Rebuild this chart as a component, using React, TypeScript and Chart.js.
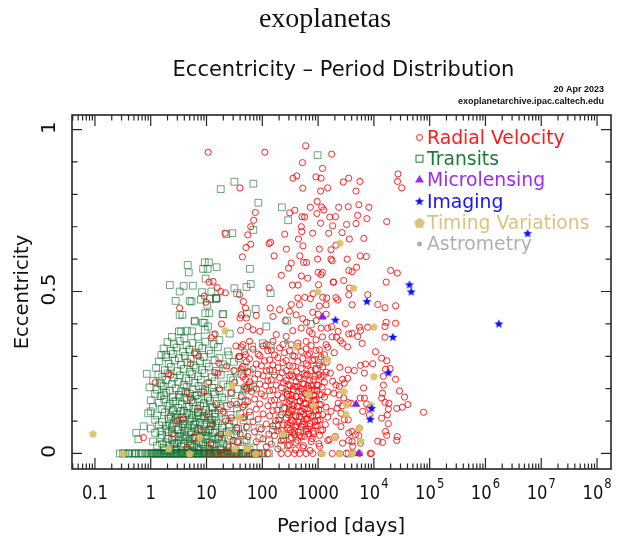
import { useEffect, useRef } from 'react';
import { Chart, registerables } from 'chart.js';

Chart.register(...registerables);

// Each point: [orbital period in days, eccentricity]
type Pt = [number, number];

const radialVelocity: Pt[] = [
  // high eccentricity
  [10.7, 0.93], [600, 0.95], [111, 0.93], [1750, 0.924], [525, 0.898], [1200, 0.88], [355, 0.85], [415, 0.857],
  [915, 0.854], [1130, 0.85], [530, 0.819], [1110, 0.81], [1480, 0.82], [2820, 0.838], [3530, 0.85], [5620, 0.84],
  [4790, 0.81], [27000, 0.863], [26500, 0.84], [31600, 0.82], [39.8, 0.82], [960, 0.778], [725, 0.76], [1160, 0.761],
  [1260, 0.752], [950, 0.741], [382, 0.751], [309, 0.743], [2340, 0.76], [3470, 0.762], [5370, 0.768], [8130, 0.76],
  [5100, 0.735], [7500, 0.725], [515, 0.731], [575, 0.73], [1620, 0.73], [2050, 0.731], [1110, 0.711], [1820, 0.703],
  [1550, 0.68], [2690, 0.682], [3240, 0.707], [4790, 0.71], [17000, 0.716], [500, 0.7], [510, 0.685], [800, 0.68],
  [75, 0.744], [70, 0.72], [55, 0.675], [62, 0.7], [252, 0.677], [445, 0.662], [141, 0.652], [132, 0.648],
  [62, 0.646], [51, 0.636], [44, 0.607], [535, 0.641], [1050, 0.631], [1700, 0.629], [2090, 0.643], [3630, 0.662],
  [6600, 0.664], [270, 0.631], [163, 0.61], [470, 0.61], [550, 0.59], [620, 0.59], [980, 0.6], [1700, 0.6],
  [1780, 0.595], [3320, 0.6], [5700, 0.61], [7300, 0.608], [296, 0.572], [330, 0.588], [219, 0.55], [500, 0.548],
  [650, 0.541], [1000, 0.559], [1200, 0.559], [1130, 0.552], [1860, 0.529], [2880, 0.534], [3550, 0.565], [4070, 0.561],
  [4900, 0.575], [16600, 0.529], [26300, 0.557], [20000, 0.565], [347, 0.52], [436, 0.52], [810, 0.493], [1020, 0.521],
  [1900, 0.529], [3550, 0.49], [7760, 0.49], [133, 0.511], [39, 0.49], [21.5, 0.68], [11.1, 0.529], [13.1, 0.531],
  [15.5, 0.512], [18, 0.5], [21.8, 0.496],
  // long periods
  [2090, 0.481], [2240, 0.474], [3630, 0.511], [4070, 0.459], [11700, 0.46], [15800, 0.45], [24500, 0.456], [3090, 0.401],
  [5500, 0.39], [7760, 0.39], [15800, 0.392], [16600, 0.405], [24500, 0.402], [5750, 0.379], [1740, 0.391], [2290, 0.377],
  [1780, 0.36], [2140, 0.359], [2510, 0.348], [3390, 0.329], [2750, 0.34], [3550, 0.369], [4070, 0.371], [5130, 0.361],
  [6170, 0.34], [15800, 0.359], [10700, 0.314], [13800, 0.294], [17000, 0.286], [9550, 0.277], [6760, 0.248], [1950, 0.311],
  [2450, 0.266], [3470, 0.258], [4470, 0.256], [5750, 0.272], [7080, 0.276], [16200, 0.26], [19500, 0.262], [24500, 0.229],
  [28800, 0.193], [35500, 0.174], [32400, 0.143], [40700, 0.151], [25700, 0.139], [77600, 0.127], [14800, 0.238], [14800, 0.211],
  [14300, 0.186], [13800, 0.171], [15800, 0.158], [18600, 0.155], [18200, 0.137], [17400, 0.119], [13800, 0.109], [18200, 0.092],
  [16200, 0.068], [17000, 0.056], [11700, 0.038], [14300, 0.034], [26300, 0.052], [25700, 0.04], [6530, 0.202], [5700, 0.171],
  [6760, 0.171], [3390, 0.232], [2750, 0.229], [1660, 0.248], [1820, 0.223], [2090, 0.211], [2400, 0.207], [2950, 0.217],
  [1910, 0.186], [2400, 0.181], [2880, 0.171], [2290, 0.155], [1700, 0.13], [2190, 0.14], [2690, 0.147], [3470, 0.157],
  [3890, 0.155], [2570, 0.124], [2950, 0.104], [2090, 0.099], [3470, 0.104], [2570, 0.083], [3550, 0.063], [4070, 0.068],
  [4680, 0.058], [2040, 0.052], [2750, 0.032], [3550, 0.04], [4070, 0.037], [4170, 0.022], [5750, 0.032], [8610, 0],
  [7410, 0.153], [8320, 0.14], [8320, 0.119], [6310, 0.13], [5500, 0.078], [5370, 0.055], [2400, 0], [4170, 0],
  [1800, 0], [3200, 0], [5500, 0], [9000, 0],
  // moderate eccentricity, 40 - 1600 d
  [433, 0.48], [578, 0.482], [729, 0.478], [1210, 0.482], [1430, 0.48], [464, 0.459], [1390, 0.459], [204, 0.444],
  [307, 0.439], [404, 0.428], [803, 0.436], [1390, 0.43], [42, 0.428], [52, 0.418], [78, 0.426], [139, 0.449],
  [155, 0.423], [532, 0.416], [920, 0.41], [1130, 0.387], [700, 0.377], [497, 0.387], [352, 0.379], [268, 0.361],
  [178, 0.367], [90, 0.377], [68, 0.382], [55, 0.392], [920, 0.351], [610, 0.346], [433, 0.341], [330, 0.336],
  [234, 0.336], [155, 0.346], [118, 0.336], [59, 0.346], [45, 0.336], [1390, 0.336], [1490, 0.387], [620, 0.405],
  [1000, 0.43], [260, 0.41], [330, 0.46], [1200, 0.36], [780, 0.37], [1050, 0.455],
  [42, 0.329], [68, 0.322], [103, 0.332], [145, 0.319], [204, 0.326], [307, 0.317], [433, 0.33], [610, 0.323], [750, 0.333], [1060, 0.32], [1490, 0.328],
  [48, 0.314], [84, 0.307], [126, 0.317], [166, 0.304], [250, 0.311], [352, 0.302], [497, 0.315], [700, 0.308], [920, 0.318], [1300, 0.305],
  [39, 0.299], [59, 0.292], [90, 0.302], [135, 0.289], [190, 0.296], [268, 0.287], [378, 0.3], [532, 0.293], [653, 0.303], [859, 0.29], [1130, 0.298],
  [52, 0.283], [78, 0.276], [110, 0.286], [155, 0.273], [234, 0.28], [307, 0.271], [433, 0.284], [610, 0.277], [803, 0.287], [1060, 0.274], [1430, 0.282],
  [44, 0.268], [68, 0.261], [96, 0.271], [135, 0.258], [190, 0.265], [268, 0.256], [352, 0.269], [497, 0.262], [653, 0.272], [896, 0.259], [1210, 0.267],
  [55, 0.252], [84, 0.245], [118, 0.255], [166, 0.242], [228, 0.249], [307, 0.24], [416, 0.253], [570, 0.246], [750, 0.256], [1030, 0.243], [1390, 0.251],
  [45, 0.237], [73, 0.23], [103, 0.24], [145, 0.227], [204, 0.234], [268, 0.225], [352, 0.238], [464, 0.231], [610, 0.241], [825, 0.228], [1130, 0.236],
  [59, 0.221], [90, 0.214], [126, 0.224], [178, 0.211], [240, 0.218], [316, 0.209], [404, 0.222], [532, 0.215], [700, 0.225], [946, 0.212], [1300, 0.22],
  [48, 0.206], [78, 0.199], [115, 0.209], [155, 0.196], [218, 0.203], [287, 0.194], [378, 0.207], [497, 0.2], [653, 0.21], [859, 0.197], [1180, 0.205],
  [64, 0.191], [96, 0.184], [135, 0.194], [190, 0.181], [261, 0.188], [343, 0.179], [451, 0.192], [594, 0.185], [781, 0.195], [1060, 0.182], [1490, 0.19],
  [42, 0.175], [73, 0.168], [110, 0.178], [166, 0.165], [228, 0.172], [307, 0.163], [404, 0.176], [532, 0.169], [700, 0.179], [920, 0.166], [1300, 0.174],
  [55, 0.16], [90, 0.153], [145, 0.163], [204, 0.15], [275, 0.157], [362, 0.148], [477, 0.161], [610, 0.154], [825, 0.164], [1130, 0.151],
  [45, 0.144], [78, 0.137], [126, 0.147], [183, 0.134], [250, 0.141], [330, 0.132], [433, 0.145], [570, 0.138], [750, 0.148], [1030, 0.135], [1390, 0.143],
  [59, 0.129], [103, 0.122], [155, 0.132], [218, 0.119], [299, 0.126], [394, 0.117], [517, 0.13], [681, 0.123], [896, 0.133], [1210, 0.12],
  [48, 0.113], [84, 0.106], [135, 0.116], [198, 0.103], [268, 0.11], [352, 0.101], [464, 0.114], [610, 0.107], [803, 0.117], [1085, 0.104], [1490, 0.112],
  [68, 0.098], [118, 0.091], [173, 0.101], [240, 0.088], [316, 0.095], [416, 0.086], [547, 0.099], [719, 0.092], [986, 0.102], [1350, 0.089],
  [52, 0.082], [96, 0.075], [155, 0.085], [218, 0.072], [287, 0.079], [378, 0.07], [497, 0.083], [653, 0.076], [896, 0.086], [1210, 0.073],
  [73, 0.067], [131, 0.06], [190, 0.07], [268, 0.057], [352, 0.064], [464, 0.055], [610, 0.068], [825, 0.061], [1130, 0.071],
  [55, 0.052], [103, 0.045], [166, 0.055], [240, 0.042], [330, 0.049], [433, 0.04], [570, 0.053], [781, 0.046], [1060, 0.056], [1590, 0.043],
  [78, 0.036], [145, 0.029], [218, 0.039], [307, 0.026], [404, 0.033], [547, 0.024], [750, 0.037], [1030, 0.03], [1490, 0.04],
  [118, 0.021], [190, 0.014], [287, 0.024], [394, 0.011], [532, 0.018], [719, 0.009], [1060, 0.022],
  [126, 0], [218, 0], [287, 0], [378, 0], [464, 0], [610, 0], [803, 0], [1130, 0],
  // densest part of the cloud
  [330, 0.243], [450, 0.236], [640, 0.245], [880, 0.238], [1250, 0.241], [290, 0.213], [420, 0.206], [560, 0.215], [760, 0.208], [1000, 0.211],
  [360, 0.198], [520, 0.191], [690, 0.2], [950, 0.193], [280, 0.183], [400, 0.176], [600, 0.185], [830, 0.178], [1150, 0.181],
  [340, 0.168], [470, 0.161], [640, 0.17], [870, 0.163], [300, 0.153], [420, 0.146], [560, 0.155], [760, 0.148], [1050, 0.151],
  [350, 0.136], [490, 0.129], [660, 0.138], [920, 0.131], [290, 0.12], [400, 0.113], [550, 0.122], [740, 0.115], [1000, 0.118],
  [330, 0.103], [460, 0.096], [640, 0.105], [880, 0.098], [280, 0.088], [390, 0.081], [520, 0.09], [700, 0.083], [960, 0.086],
  [320, 0.073], [440, 0.066], [600, 0.075], [820, 0.068], [380, 0.058], [500, 0.051], [680, 0.06],
  // short periods
  [9.1, 0.486], [9.8, 0.467], [3.3, 0.449], [50, 0.449], [45.7, 0.469], [18.6, 0.4], [39.8, 0.418], [40.9, 0.38],
  [33.6, 0.332], [38.3, 0.3], [50, 0.305], [14.2, 0.369], [12.1, 0.357], [7.3, 0.3], [6.1, 0.31], [5.2, 0.277],
  [16.6, 0.279], [16.1, 0.248], [30.8, 0.256], [50, 0.229], [2.3, 0.242], [2.1, 0.245], [1.2, 0.219], [0.74, 0.049],
  [4.5, 0.19], [5.2, 0.171], [3.8, 0.106], [26.9, 0.151], [34.7, 0.152], [51.5, 0.202], [27.5, 0.187],
  [10, 0.12], [13, 0.09], [18, 0.06], [22, 0.1], [30, 0.04], [35, 0.08], [25, 0.02], [12, 0.03], [8, 0.07], [6, 0.05],
  [4.5, 0.02], [15, 0.15], [20, 0.13], [28, 0.11], [45, 0.11], [40, 0.06], [3, 0.1], [2.5, 0.06], [7, 0.14], [9, 0.19],
  [11, 0.22], [14, 0.25], [17, 0.2], [23, 0.27], [32, 0.22], [42, 0.26], [48, 0.15], [36, 0.035],
  [11, 0], [15, 0], [20, 0], [27, 0], [35, 0], [48, 0], [65, 0], [90, 0],
];

const transits: Pt[] = [
  [980, 0.921], [31.6, 0.839], [18, 0.816], [69, 0.833], [85, 0.774], [224, 0.76], [290, 0.72], [69, 0.69],
  [29, 0.68], [22.7, 0.677], [9.3, 0.59], [11, 0.59], [8.7, 0.57], [10.5, 0.57], [15.2, 0.575], [4.6, 0.582],
  [4.8, 0.559], [9.6, 0.54], [2.2, 0.52], [3.9, 0.517], [5.7, 0.518], [3.3, 0.5], [8.3, 0.498], [31.6, 0.51],
  [35.5, 0.495], [52, 0.514], [14.8, 0.48], [60, 0.57], [62, 0.523], [141, 0.495],
  [2.8, 0.471], [3.7, 0.428], [5, 0.471], [6.1, 0.41], [3.5, 0.377], [5.5, 0.377], [9.3, 0.382], [9.2, 0.403],
  [11.5, 0.477], [14.8, 0.477], [20, 0.43], [10.3, 0.459], [12.2, 0.5], [15.2, 0.479], [5.4, 0.469], [7.9, 0.475],
  [9.5, 0.433], [11.2, 0.433], [3.3, 0.428], [6.2, 0.407], [8.6, 0.404], [10.6, 0.392], [19.4, 0.43], [4.45, 0.379],
  [3.2, 0.377], [1.85, 0.305], [1.0, 0.13], [0.55, 0.064], [1.57, 0.21], [1.75, 0.18],
  [2.4, 0.36], [4.0, 0.355], [7, 0.36], [13, 0.365], [17, 0.35], [26, 0.37],
  [2.0, 0.344], [2.6, 0.337], [3.3, 0.347], [4.4, 0.334], [5.6, 0.341], [7.3, 0.332], [9.5, 0.345], [13.5, 0.338],
  [1.7, 0.324], [2.3, 0.317], [2.9, 0.327], [3.8, 0.314], [4.9, 0.321], [6.3, 0.312], [8.4, 0.325], [11, 0.318], [16, 0.328], [24, 0.315],
  [1.55, 0.304], [1.9, 0.297], [2.5, 0.307], [3.2, 0.294], [4.1, 0.301], [5.2, 0.292], [6.7, 0.305], [8.9, 0.298], [12, 0.308], [17, 0.295], [25, 0.303], [38, 0.293],
  [1.4, 0.284], [2.1, 0.277], [2.7, 0.287], [3.5, 0.274], [4.5, 0.281], [5.9, 0.272], [7.6, 0.285], [10, 0.278], [14, 0.288], [20, 0.275], [31, 0.283],
  [1.25, 0.264], [1.8, 0.257], [2.3, 0.267], [3.0, 0.254], [3.9, 0.261], [5.0, 0.252], [6.4, 0.265], [8.3, 0.258], [11, 0.268], [15, 0.255], [22, 0.263], [33, 0.253], [48, 0.266],
  [0.85, 0.246], [1.37, 0.244], [1.6, 0.237], [2.0, 0.247], [2.6, 0.234], [3.3, 0.241], [4.3, 0.232], [5.5, 0.245], [7.0, 0.238], [9.2, 0.248], [12.5, 0.235], [18, 0.243], [27, 0.233], [42, 0.246],
  [1.1, 0.224], [1.5, 0.217], [1.9, 0.227], [2.4, 0.214], [3.1, 0.221], [3.9, 0.212], [4.8, 0.225], [6.1, 0.218], [7.9, 0.228], [10.4, 0.215], [14, 0.223], [20, 0.213], [30, 0.226],
  [0.95, 0.204], [1.3, 0.197], [1.7, 0.207], [2.2, 0.194], [2.8, 0.201], [3.5, 0.192], [4.4, 0.205], [5.6, 0.198], [7.2, 0.208], [9.4, 0.195], [12.5, 0.203], [17, 0.193], [24, 0.206], [36, 0.199], [55, 0.202],
  [1.2, 0.184], [1.5, 0.177], [1.9, 0.187], [2.5, 0.174], [3.2, 0.181], [4.0, 0.172], [5.0, 0.185], [6.3, 0.178], [8.0, 0.188], [10.5, 0.175], [14, 0.183], [19, 0.173], [28, 0.186], [44, 0.179],
  [1.0, 0.164], [1.4, 0.157], [1.75, 0.167], [2.2, 0.154], [2.8, 0.161], [3.6, 0.152], [4.5, 0.165], [5.7, 0.158], [7.2, 0.168], [9.0, 0.155], [11.5, 0.163], [15, 0.153], [21, 0.166], [32, 0.159], [50, 0.162],
  [1.1, 0.144], [1.6, 0.137], [2.0, 0.147], [2.5, 0.134], [3.1, 0.141], [3.9, 0.132], [4.9, 0.145], [6.1, 0.138], [7.7, 0.148], [9.8, 0.135], [12.5, 0.143], [16.5, 0.133], [23, 0.146], [35, 0.139],
  [0.9, 0.124], [1.3, 0.117], [1.8, 0.127], [2.3, 0.114], [2.9, 0.121], [3.6, 0.112], [4.5, 0.125], [5.6, 0.118], [7.0, 0.128], [8.8, 0.115], [11, 0.123], [14, 0.113], [19, 0.126], [27, 0.119], [40, 0.122], [60, 0.116],
  [1.2, 0.104], [1.6, 0.097], [2.1, 0.107], [2.6, 0.094], [3.3, 0.101], [4.1, 0.092], [5.1, 0.105], [6.4, 0.098], [8.0, 0.108], [10, 0.095], [12.5, 0.103], [16, 0.093], [22, 0.106], [31, 0.099], [46, 0.102],
  [0.75, 0.084], [1.0, 0.077], [1.4, 0.087], [1.9, 0.074], [2.4, 0.081], [3.0, 0.072], [3.7, 0.085], [4.6, 0.078], [5.8, 0.088], [7.3, 0.075], [9.2, 0.083], [11.5, 0.073], [14.5, 0.086], [19, 0.079], [26, 0.082], [37, 0.076], [55, 0.08],
  [1.2, 0.064], [1.6, 0.057], [2.1, 0.067], [2.7, 0.054], [3.4, 0.061], [4.2, 0.052], [5.3, 0.065], [6.6, 0.058], [8.3, 0.068], [10.4, 0.055], [13, 0.063], [17, 0.053], [23, 0.066], [32, 0.059], [45, 0.062],
  [0.6, 0.044], [1.1, 0.037], [1.5, 0.047], [1.9, 0.034], [2.4, 0.041], [3.0, 0.032], [3.8, 0.045], [4.7, 0.038], [5.9, 0.048], [7.4, 0.035], [9.3, 0.043], [11.6, 0.033], [14.5, 0.046], [18.5, 0.039], [25, 0.042], [36, 0.036], [52, 0.04],
  [1.3, 0.024], [1.7, 0.017], [2.2, 0.027], [2.8, 0.014], [3.5, 0.021], [4.4, 0.012], [5.5, 0.025], [6.9, 0.018], [8.7, 0.028], [10.9, 0.015], [13.7, 0.023], [17.5, 0.013], [23, 0.026], [31, 0.019], [44, 0.022], [70, 0.016],
  [2.7, 0.03], [3.4, 0.05], [4.2, 0.07], [5.1, 0.03], [6.2, 0.09], [7.6, 0.05], [9.1, 0.11], [10.8, 0.07], [12.9, 0.03], [3.0, 0.11],
  [3.8, 0.09], [4.9, 0.12], [6.0, 0.02], [7.2, 0.115], [8.5, 0.035], [2.2, 0.09], [5.6, 0.045], [11.8, 0.095], [14.2, 0.065], [16.5, 0.045],
  [2.5, 0.13], [4.0, 0.03], [6.9, 0.075], [9.6, 0.055], [13, 0.14],
  // low-eccentricity core
  [1.8, 0.01], [2.3, 0.008], [2.9, 0.012], [3.6, 0.006], [4.6, 0.01], [5.8, 0.007], [7.3, 0.011], [9.1, 0.006], [11.5, 0.01], [14.5, 0.008], [18.5, 0.012], [24, 0.007],
  [1.6, 0.03], [2.0, 0.045], [2.6, 0.028], [3.2, 0.04], [4.0, 0.055], [5.0, 0.025], [6.4, 0.05], [8.0, 0.03], [10, 0.045], [12.5, 0.025], [16, 0.05], [20, 0.03], [27, 0.055],
  [1.5, 0.07], [1.9, 0.085], [2.4, 0.065], [3.1, 0.075], [3.9, 0.1], [4.8, 0.065], [6.0, 0.08], [7.6, 0.095], [9.5, 0.07], [12, 0.085], [15, 0.1], [19, 0.065], [25, 0.09], [34, 0.07],
  [2.1, 0.12], [2.8, 0.105], [3.5, 0.13], [4.4, 0.145], [5.5, 0.11], [7, 0.125], [8.8, 0.145], [11, 0.11], [14, 0.125], [18, 0.14],
  [2.5, 0.16], [3.3, 0.175], [4.2, 0.19], [5.3, 0.165], [6.7, 0.18], [8.5, 0.2], [10.7, 0.17], [13.5, 0.19],
  [53, 0.432], [76, 0.446], [118, 0.392], [65, 0.33], [102, 0.34], [142, 0.333], [155, 0.254], [59, 0.25],
  [1020, 0.288], [945, 0.261], [59, 0.21], [68, 0.205], [50, 0.197], [288, 0.181], [240, 0.14], [309, 0.13],
  [204, 0.109], [178, 0.086], [155, 0.073], [233, 0.057], [309, 0.047], [132, 0.037], [89, 0.078], [89, 0.047],
  [48, 0.035], [59, 0.011], [219, 0.024], [740, 0.4], [280, 0.41],
  // circular orbits
  [0.28, 0], [0.32, 0], [0.34, 0], [0.39, 0], [0.41, 0], [0.47, 0], [0.52, 0], [0.55, 0], [0.61, 0], [0.67, 0],
  [0.71, 0], [0.8, 0], [0.86, 0], [0.94, 0], [1.05, 0], [1.12, 0], [1.26, 0], [1.35, 0], [1.51, 0], [1.63, 0],
  [1.82, 0], [1.96, 0], [2.2, 0], [2.35, 0], [2.62, 0], [2.83, 0], [3.12, 0], [3.38, 0], [3.77, 0], [4.08, 0],
  [4.53, 0], [4.87, 0], [5.42, 0], [5.88, 0], [6.52, 0], [7.06, 0], [7.84, 0], [8.46, 0], [9.35, 0], [10.1, 0],
  [11.3, 0], [12.2, 0], [13.6, 0], [14.7, 0], [16.3, 0], [17.7, 0], [19.6, 0], [21.3, 0], [23.6, 0], [25.7, 0],
  [28.4, 0], [30.8, 0], [34.2, 0], [37.3, 0], [41.2, 0], [44.8, 0], [50.3, 0], [54.6, 0], [60.4, 0], [65.8, 0],
  [73.5, 0], [84, 0], [104, 0], [131, 0], [3550, 0],
  [1.0, 0], [1.09, 0], [1.19, 0], [1.3, 0], [1.43, 0], [1.57, 0], [1.72, 0], [1.89, 0], [2.07, 0], [2.27, 0],
  [2.5, 0], [2.72, 0], [2.98, 0], [3.25, 0], [3.55, 0], [3.92, 0], [4.3, 0], [4.7, 0], [5.15, 0], [5.65, 0],
  [6.2, 0], [6.8, 0], [7.45, 0], [8.15, 0], [8.9, 0], [9.75, 0], [10.7, 0], [11.7, 0], [12.8, 0], [14.1, 0],
  [15.5, 0], [17, 0], [18.6, 0], [20.4, 0], [22.4, 0], [24.6, 0], [27, 0], [29.6, 0], [32.5, 0], [35.7, 0],
  [39, 0], [43, 0], [47, 0], [57, 0], [68, 0], [78, 0], [95, 0],
];

const microlensing: Pt[] = [[1200, 0.421], [4800, 0.152], [5400, 0]];

const imaging: Pt[] = [
  [43500, 0.522], [46700, 0.5], [7500, 0.47], [2040, 0.413], [1.74e6, 0.401],
  [21900, 0.36], [18200, 0.25], [9100, 0.14], [8600, 0.106], [5.7e6, 0.68],
];

const timingVariations: Pt[] = [
  [0.092, 0.061], [21.5, 0.38], [28.7, 0.21], [38, 0.113], [24.6, 0.062], [7.6, 0.049], [2.1, 0.015], [5, 0],
  [32, 0.015], [52, 0.016], [55, 0.017], [0.32, 0], [76, 0], [405, 0.331], [985, 0.5], [665, 0.183], [830, 0.149],
  [1480, 0.291], [233, 0.061], [1180, 0], [2000, 0.049], [10000, 0.391], [10000, 0.238], [2900, 0.191],
  [3230, 0.15], [3160, 0.122], [5500, 0.08], [5750, 0.04], [8900, 0.15], [2400, 0], [4170, 0], [2460, 0.65], [4340, 0.511],
];

const astrometry: Pt[] = [[270, 0.345]];

// Axis ticks and labels
const xTickValues = [0.1, 1, 10, 100, 1000, 1e4, 1e5, 1e6, 1e7, 1e8];
const xTickBase = ['0.1', '1', '10', '100', '1000', '10', '10', '10', '10', '10'];
const xTickExp = ['', '', '', '', '', '4', '5', '6', '7', '8'];
const yTickValues = [0, 0.5, 1];
const yTickLabels = ['0', '0.5', '1'];

const legendLabels = ['Radial Velocity', 'Transits', 'Microlensing', 'Imaging', 'Timing Variations', 'Astrometry'];
const legendColors = ['#ff1a1a', '#1e7a3a', '#9a2cf0', '#1515ff', '#d8c47c', '#b0b0b0'];

const SANS = '"DejaVu Sans", "Liberation Sans", sans-serif';

function makeMarker(kind: string, color: string, size: number) {
  const c = document.createElement('canvas');
  c.width = size;
  c.height = size;
  const g = c.getContext('2d')!;
  const cx = size / 2;
  const cy = size / 2;
  const R = size / 2 - 0.3;
  g.beginPath();
  if (kind === 'pentagon') {
    for (let i = 0; i < 5; i++) {
      const a = -Math.PI / 2 + (i * 2 * Math.PI) / 5;
      const x = cx + R * Math.cos(a);
      const y = cy + R * Math.sin(a) + 0.4;
      if (i === 0) g.moveTo(x, y);
      else g.lineTo(x, y);
    }
  } else {
    for (let i = 0; i < 10; i++) {
      const a = -Math.PI / 2 + (i * Math.PI) / 5;
      const r = i % 2 === 0 ? R : R * 0.45;
      const x = cx + r * Math.cos(a);
      const y = cy + r * Math.sin(a) + 0.5;
      if (i === 0) g.moveTo(x, y);
      else g.lineTo(x, y);
    }
  }
  g.closePath();
  g.fillStyle = color;
  g.fill();
  return c;
}

function scaledText(ctx: CanvasRenderingContext2D, text: string, x: number, y: number, sx: number) {
  ctx.save();
  ctx.translate(x, y);
  ctx.scale(sx, 1);
  ctx.fillText(text, 0, 0);
  ctx.restore();
}

const decorations = {
  id: 'decorations',
  afterDatasetsDraw(chart: any) {
    const { ctx, chartArea: a, scales } = chart;
    const xs = scales.x;
    const ys = scales.y;
    ctx.save();

    // frame
    ctx.strokeStyle = '#262626';
    ctx.lineWidth = 1.6;
    ctx.strokeRect(a.left, a.top, a.right - a.left, a.bottom - a.top);

    // inward ticks
    ctx.lineWidth = 1.2;
    ctx.beginPath();
    for (let d = -2; d <= 8; d++) {
      for (let m = 1; m <= 9; m++) {
        const v = m * Math.pow(10, d);
        if (v < xs.min || v > xs.max) continue;
        const px = xs.getPixelForValue(v);
        const len = m === 1 ? 11 : 5.5;
        ctx.moveTo(px, a.bottom);
        ctx.lineTo(px, a.bottom - len);
        ctx.moveTo(px, a.top);
        ctx.lineTo(px, a.top + len);
      }
    }
    for (let k = 0; k <= 10; k++) {
      const py = ys.getPixelForValue(k / 10);
      const len = k % 5 === 0 ? 10 : 5.5;
      ctx.moveTo(a.left, py);
      ctx.lineTo(a.left + len, py);
      ctx.moveTo(a.right, py);
      ctx.lineTo(a.right - len, py);
    }
    ctx.stroke();

    // x tick labels
    ctx.fillStyle = '#111';
    ctx.textBaseline = 'alphabetic';
    ctx.textAlign = 'left';
    const sx = 0.82;
    xTickValues.forEach((v, i) => {
      const px = xs.getPixelForValue(v);
      ctx.font = `20px ${SANS}`;
      const wb = ctx.measureText(xTickBase[i]).width * sx;
      ctx.font = `14px ${SANS}`;
      const we = xTickExp[i] ? ctx.measureText(xTickExp[i]).width * sx + 1 : 0;
      const x0 = px - (wb + we) / 2;
      ctx.font = `20px ${SANS}`;
      scaledText(ctx, xTickBase[i], x0, 499, sx);
      if (xTickExp[i]) {
        ctx.font = `14px ${SANS}`;
        scaledText(ctx, xTickExp[i], x0 + wb + 1, 488, sx);
      }
    });

    // y tick labels (rotated)
    ctx.font = `20px ${SANS}`;
    ctx.textAlign = 'center';
    ctx.textBaseline = 'middle';
    yTickValues.forEach((v, i) => {
      const py = ys.getPixelForValue(v);
      ctx.save();
      ctx.translate(50, py - 2);
      ctx.rotate(-Math.PI / 2);
      ctx.fillText(yTickLabels[i], 0, 0);
      ctx.restore();
    });

    // axis titles
    ctx.font = `19.5px ${SANS}`;
    ctx.save();
    ctx.translate(23, 292);
    ctx.rotate(-Math.PI / 2);
    ctx.fillText('Eccentricity', 0, 0);
    ctx.restore();
    ctx.textBaseline = 'alphabetic';
    ctx.fillText('Period [days]', 341, 532);

    // titles
    ctx.font = '28px "Liberation Serif", "Times New Roman", serif';
    ctx.fillText('exoplanetas', 325, 27);
    ctx.font = `21px ${SANS}`;
    ctx.fillText('Eccentricity \u2013 Period Distribution', 343.5, 76);
    ctx.font = 'bold 9px "Liberation Sans", Arial, sans-serif';
    ctx.textAlign = 'right';
    ctx.fillText('20 Apr 2023', 604, 92);
    ctx.fillText('exoplanetarchive.ipac.caltech.edu', 604, 104);

    // legend
    const baselines = [144, 165.2, 186.4, 207.6, 228.8, 250];
    ctx.font = `18.8px ${SANS}`;
    ctx.textAlign = 'left';
    legendLabels.forEach((label, i) => {
      const y = baselines[i];
      const cy = y - 7;
      const col = legendColors[i];
      ctx.fillStyle = col;
      ctx.strokeStyle = col;
      ctx.lineWidth = 1;
      const mx = 419.5;
      if (i === 0) {
        ctx.beginPath();
        ctx.arc(mx, cy + 0.5, 3, 0, Math.PI * 2);
        ctx.stroke();
      } else if (i === 1) {
        ctx.strokeRect(mx - 3.5, cy - 3, 7, 7);
      } else if (i === 2) {
        ctx.beginPath();
        ctx.moveTo(mx, cy - 4.5);
        ctx.lineTo(mx + 4.5, cy + 3);
        ctx.lineTo(mx - 4.5, cy + 3);
        ctx.closePath();
        ctx.fill();
      } else if (i === 3) {
        ctx.drawImage(chart.$starMarker, mx - 5, cy - 4.5);
      } else if (i === 4) {
        ctx.drawImage(chart.$pentLegend, mx - 6, cy - 5);
      } else {
        ctx.beginPath();
        ctx.arc(mx, cy + 1, 2.5, 0, Math.PI * 2);
        ctx.fill();
      }
      ctx.fillStyle = col;
      ctx.fillText(label, 427, y);
    });
    ctx.restore();
  },
};

const toXY = (pts: Pt[]) => pts.map(([p, e]) => ({ x: p, y: e }));

export default function App() {
  const ref = useRef<HTMLCanvasElement>(null);

  useEffect(() => {
    const star = makeMarker('star', '#1010ff', 10);
    const pent = makeMarker('pentagon', 'rgba(214,192,104,0.92)', 9);
    const pentLegend = makeMarker('pentagon', '#d8c47c', 12);

    const chart: any = new Chart(ref.current!, {
      type: 'scatter',
      data: {
        datasets: [
          {
            label: 'Imaging',
            data: toXY(imaging),
            pointStyle: star as any,
            pointRadius: 5,
            order: 0,
          },
          {
            label: 'Microlensing',
            data: toXY(microlensing),
            pointStyle: 'triangle',
            pointRadius: 4,
            backgroundColor: '#8c1ef0',
            borderColor: '#8c1ef0',
            borderWidth: 1,
            order: 1,
          },
          {
            label: 'Timing Variations',
            data: toXY(timingVariations),
            pointStyle: pent as any,
            pointRadius: 5,
            order: 2,
          },
          {
            label: 'Astrometry',
            data: toXY(astrometry),
            pointStyle: 'circle',
            pointRadius: 2.5,
            backgroundColor: '#9a9a9a',
            borderColor: '#9a9a9a',
            borderWidth: 0,
            order: 3,
          },
          {
            label: 'Radial Velocity',
            data: toXY(radialVelocity),
            pointStyle: 'circle',
            pointRadius: 3.1,
            backgroundColor: 'rgba(0,0,0,0)',
            borderColor: 'rgba(255,0,0,0.85)',
            borderWidth: 1,
            order: 4,
          },
          {
            label: 'Transits',
            data: toXY(transits),
            pointStyle: 'rect',
            pointRadius: 4.8,
            backgroundColor: 'rgba(0,0,0,0)',
            borderColor: 'rgba(10,105,40,0.6)',
            borderWidth: 1,
            order: 5,
          },
        ],
      },
      options: {
        animation: false,
        responsive: false,
        events: [],
        layout: { padding: { left: 72, right: 4, top: 115, bottom: 74 } },
        plugins: {
          legend: { display: false },
          tooltip: { enabled: false },
          title: { display: false },
        },
        scales: {
          x: { type: 'logarithmic', min: 0.0388, max: 1.78e8, display: false },
          y: { type: 'linear', min: -0.048, max: 1.045, display: false },
        },
      },
      plugins: [
        {
          id: 'markerRefs',
          beforeInit(c: any) {
            c.$starMarker = star;
            c.$pentLegend = pentLegend;
          },
        },
        decorations,
      ],
    });

    return () => chart.destroy();
  }, []);

  return (
    <div style={{ position: 'fixed', left: 0, top: 0, width: 617, height: 543, background: '#fff' }}>
      <canvas ref={ref} width={617} height={543} style={{ width: 617, height: 543, display: 'block' }} />
    </div>
  );
}
